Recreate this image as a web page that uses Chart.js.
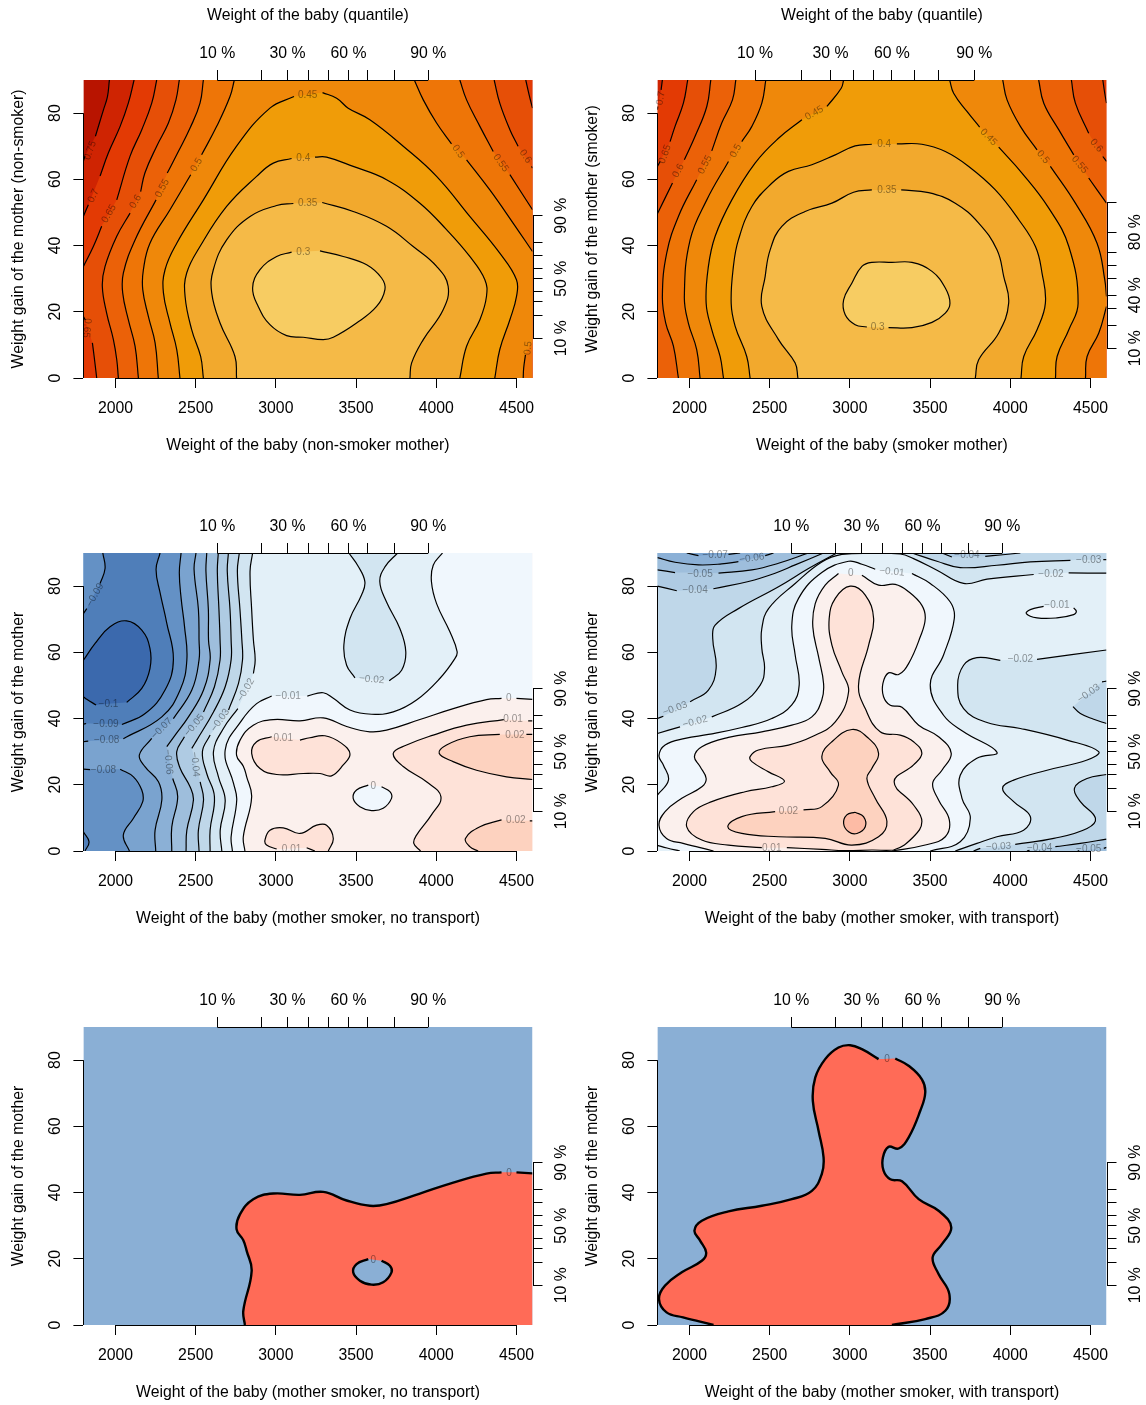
<!DOCTYPE html>
<html>
<head>
<meta charset="utf-8">
<title>Weight of the baby / weight gain of the mother</title>
<script src="https://cdn.jsdelivr.net/npm/chart.js@4.4.3/dist/chart.umd.min.js"></script>
<style>
  html, body { margin: 0; background: #fff; }
  #wrap { position: relative; width: 1146px; height: 1405px; overflow: hidden; }
  #wrap canvas { position: absolute; }
</style>
</head>
<body>
<div id="wrap"></div>
<script>
/* ── axes ── */
const xTicks = [2000, 2500, 3000, 3500, 4000, 4500];
const yTicks = [0, 20, 40, 60, 80];
const xQuantNon = [2635, 2909, 3073, 3204, 3329, 3453, 3574, 3738, 3950];
const xQuantSmk = [2409, 2699, 2879, 3021, 3148, 3262, 3404, 3555, 3776];
const yQuantNon = [12, 19, 23, 26, 30, 33, 37, 41, 49];
const yQuantSmk = [9, 16, 21, 25, 30, 34, 38, 44, 53];
const xQuantLabels = ['10 %', '', '30 %', '', '', '60 %', '', '', '90 %'];
const yLabelsNon = ['10 %', '', '', '', '50 %', '', '', '', '90 %'];
const yLabelsSmk = ['10 %', '', '', '40 %', '', '', '', '80 %', ''];

/* ── band colours, low to high ── */
const orange = ['#F7CC62', '#F5BA47', '#F2A92D', '#F09C08', '#EF880A', '#EE7507', '#EB6108', '#E64F07', '#E33A04', '#CF2402', '#B81400'];
const blues = { m10: '#3B69AD', m09: '#4F7EB9', m08: '#6491C5', m07: '#7AA3CF', m06: '#8BB0D6', m05: '#9EBEDC', m04: '#AFCBE3', m03: '#BFD7E9', m02: '#D2E5F1', m01: '#E3F0F8', z0: '#F0F7FD', p0: '#FBF0ED', p1: '#FEE2D8', p2: '#FDD2BF', p3: '#FDBBA5' };
const signBlue = '#8AAFD5', signRed = '#FF6B57';

/* ── panel 1: non-smoker, contour pieces (a gap = room for the label) ── */
const a75 = [[[1962,90],[1950,85],[1925,81],[1900,77],[1875,73]], [[1810,67],[1800,65.5]]];
const a70 = [[[2116,90],[2080,83],[2029,76],[1956,68],[1904,61]], [[1831,52.3],[1804,49.3],[1800,48.8]]];
const a65 = [[[2257,90],[2226,83],[2164,75],[2091,67],[2008,53.8]], [[1914,45.8],[1862,39.7],[1800,33.7]]];
const a65b = [[[1800,18.6],[1812,17.5]], [[1856,10.6],[1867,6.5],[1883,0]]];
const a60 = [[[2398,90],[2377,84],[2330,77],[2257,70],[2184,62],[2157,56.3]], [[2091,49.8],[2008,42.8],[1935,33.7],[1918,27.7],[1945,19.6],[1987,11.6],[2008,5.5],[2018,0]]];
const a55 = [[[2548,90],[2527,83],[2465,75.5],[2392,68.4],[2323,61.9]], [[2253,53.8],[2122,41.7],[2049,31.7],[2045,25.7],[2080,17.6],[2122,9.6],[2143,0]]];
const a50 = [[[2741,90],[2714,85],[2631,76],[2537,67.4]], [[2469,61.4],[2340,50.8],[2215,40.7],[2174,32.7],[2170,26.7],[2205,18.6],[2247,10.6],[2267,0]]];
const a45 = [[[2402,0],[2382,8.6],[2340,16.6],[2299,25.7],[2309,32.7],[2382,40.7],[2548,53.8],[2755,70],[2963,81.5],[3113,85]], [[3291,86.2],[3379,84.5],[3451,81.5],[3586,78],[3794,70],[4002,60.9],[4209,48.8],[4396,37.7],[4500,29.7],[4500,24.6],[4459,17.6],[4396,8.6],[4365,0]]];
const a40 = [[[2548,0],[2531,6.5],[2475,14.6],[2434,24.6],[2444,31.7],[2527,39.7],[2693,51.8],[2880,60.9],[2984,64.9],[3098,66.3]], [[3244,66.7],[3316,66.7],[3482,63.9],[3690,59.9],[3898,52.8],[4064,44.8],[4209,36.7],[4303,29.7],[4313,24.6],[4272,17.6],[4189,9.6],[4147,0]]];
const a35 = [[[2755,0],[2745,6.5],[2652,16.6],[2600,25.7],[2610,32.7],[2693,41.7],[2839,48.8],[3005,52.1],[3109,52.7]], [[3289,53],[3482,50.3],[3690,45.8],[3856,39.7],[4002,33.7],[4074,27.7],[4043,20.6],[3919,11.6],[3846,4.5],[3836,0]]];
const a30 = [[[3275,38.4],[3420,36.7],[3566,34.2],[3659,30.2],[3680,26.7],[3628,21.6],[3503,16.6],[3358,12.3],[3295,11.6],[3171,12.3],[3067,12.8],[2963,16.1],[2890,21.6],[2855,27.2],[2901,32.7],[3005,36.7],[3098,38]]];
const b50 = [[[3863,90],[3919,84],[4002,77],[4095,70.7]], [[4189,65.9],[4334,56.8],[4479,46.8],[4600,38.2]]];
const b50low = [[[4542,0],[4545,3],[4556,7]], [[4600,11]]];
const b55 = [[[4147,90],[4189,84],[4272,76],[4355,68.4]], [[4459,61.4],[4600,50.8]]];
const b60 = [[[4361,90],[4396,83],[4459,75],[4510,70]], [[4594,63.9],[4600,63.4]]];
const b65 = [[[4558,90],[4579,85.5],[4600,81.5]]];
const labelsA = [[1842,68.7,'0.75',-70],[1862,55,'0.7',-65],[1960,49.6,'0.65',-60],[2126,53.3,'0.6',-60],[2292,57.3,'0.55',-62],[2506,64.4,'0.5',-60],[3198,85.5,'0.45',0],[3171,66.4,'0.4',0],[3198,52.7,'0.35',0],[3171,38,'0.3',0],[4137,68.4,'0.5',55],[4403,64.9,'0.55',55],[4556,66.9,'0.6',55],[1821,15.1,'0.65',95],[4573,9,'0.5',-85]];

/* ── panel 2: smoker ── */
const c70 = [[[1831,90],[1823,87]], [[1802,82],[1800,81]]];
const c65 = [[[1989,90],[1962,83],[1910,76],[1879,71.4]], [[1817,65.4],[1800,63.9]]];
const c60 = [[[2133,90],[2108,82],[2035,73],[1968,65.9]], [[1894,58.9],[1800,49.6]]];
const c55 = [[[2289,90],[2268,84],[2201,77],[2139,68.6]], [[2045,59.9],[1931,48.8],[1858,37.7],[1831,24.6],[1852,16.6],[1900,9.6],[1931,0]]];
const c50 = [[[2476,90],[2451,83],[2389,76],[2326,71.4]], [[2243,65.4],[2108,53.8],[2004,41.7],[1968,24.6],[1993,16.6],[2045,8.6],[2066,0]]];
const c45 = [[[2961,90],[2946,87.5],[2857,82]], [[2701,78],[2555,72.4],[2409,64.9],[2264,53.8],[2160,42.8],[2118,33.7],[2104,22.6],[2139,14.6],[2191,6.5],[2212,0]]];
const c40 = [[[2378,0],[2357,6.5],[2285,15.6],[2260,22.6],[2274,33.7],[2305,41.7],[2389,51.8],[2513,58.8],[2617,62.4],[2763,64.4],[2909,67.4],[3033,70.1],[3137,70.6]], [[3293,70.7],[3449,70.6],[3595,68.4],[3741,63.9],[3907,56.8],[4053,47.8],[4157,39.7],[4198,31.7],[4219,22.6],[4167,14.6],[4084,6.5],[4067,0]]];
const c35 = [[[2676,0],[2659,4.5],[2555,11.6],[2451,21.6],[2472,30.7],[2503,38.7],[2576,45.8],[2721,50.3],[2888,52.8],[3023,56.1],[3137,56.8]], [[3320,56.8],[3491,56],[3657,52.8],[3803,46.8],[3917,38.7],[3959,30.7],[3990,22.6],[3928,13.6],[3803,5.5],[3782,0]]];
const c30 = [[[3241,15.2],[3387,15.2],[3512,16.8],[3595,19.6],[3624,22.6],[3595,27.2],[3512,32.2],[3387,34.9],[3262,34.9],[3137,34.9],[3075,33.7],[3013,28.7],[2961,23.6],[2971,19.1],[3033,16.1],[3106,15.4]]];
const d45 = [[[3622,90],[3647,86],[3730,80.5],[3809,75.8]], [[3928,69.7],[4073,61.9],[4240,51.3],[4365,39.7],[4423,22.6],[4365,14.6],[4292,6.5],[4282,0]]];
const d50 = [[[3953,90],[3980,84],[4063,76],[4167,68.9]], [[4250,63.9],[4406,52.8],[4541,40.7],[4589,29.7],[4600,24.6]]];
const d50low = [[[4469,0],[4479,6.5],[4552,13.6],[4600,21.6]]];
const d55 = [[[4177,90],[4209,83],[4302,75],[4396,67.4]], [[4489,60.4],[4600,52.8]]];
const d60 = [[[4381,90],[4406,83],[4489,73.9]], [[4577,66.9],[4600,65.4]]];
const d65 = [[[4577,90],[4589,86],[4600,83]]];
const labelsB = [[1821,84.5,'0.7',-80],[1848,67.6,'0.65',-70],[1931,62.6,'0.6',-62],[2097,64.4,'0.55',-62],[2289,68.6,'0.5',-62],[2778,80,'0.45',-30],[3214,70.6,'0.4',0],[3231,56.8,'0.35',0],[3173,15.2,'0.3',0],[3865,72.7,'0.45',45],[4204,66.7,'0.5',50],[4433,64.4,'0.55',50],[4537,70.2,'0.6',50]];

/* ── panel 3 and 5: mother smoker, no transport ── */
const zeroNo = [[[2807,0],[2797,4.3],[2849,16.3],[2818,22.4],[2797,25.6],[2755,28.9],[2776,33.4],[2859,38],[2984,39.7],[3150,39.3],[3295,40.2],[3441,37.6],[3586,36],[3690,36.5],[3898,39.7],[4106,43],[4313,45.7],[4407,46.1]], [[4500,46.1],[4600,45.8]]];
const zeroHole = [[[3659,19.4],[3711,17.9],[3721,15.9],[3669,12.9],[3597,12.2],[3524,13.4],[3482,15.9],[3503,18.4],[3576,19.9]]];
const e10 = [[[1800,57.6],[1873,62.7],[1966,67.7],[2070,69.5],[2164,66.7],[2215,61.2],[2215,55.1],[2164,49.1],[2070,44.9]], [[1879,44.1],[1821,45.8],[1800,46.6]]];
const e09up = [[[1921,90],[1935,85.3],[1904,80.8]], [[1821,73.2],[1800,71.7]]];
const e09 = [[[2278,90],[2253,85],[2278,78],[2319,69],[2361,57.7],[2309,48.6],[2185,41.5],[2040,38.2]], [[1817,38.5],[1800,38.3]]];
const e09arc = [[[1800,5.8],[1835,2.8],[1810,0]]];
const e08 = [[[2409,90],[2398,84],[2410,76],[2430,68],[2445,57.7],[2403,48.6],[2289,40.5],[2049,33.9]], [[1830,33.2],[1800,33]]];
const e08low = [[[1800,24.7],[1842,24.6]], [[2029,24.7],[2112,22.4],[2164,18.4],[2170,14.9],[2112,9.9],[2049,4.8],[2087,0]]];
const e07 = [[[2502,90],[2490,85],[2517,73],[2521,63.7],[2521,57.7],[2476,48.6],[2361,40]], [[2226,34],[2149,29],[2185,25.4],[2268,20.9],[2289,15.4],[2247,6.3],[2251,0]]];
const e06 = [[[2569,90],[2564,84.5],[2579,73],[2580,63.7],[2590,57.7],[2549,48.6],[2455,40.5],[2372,35],[2320,31.5]], [[2357,21.9],[2388,16.4],[2351,7.3],[2351,0]]];
const e05 = [[[2641,90],[2635,84.5],[2645,73],[2652,63.7],[2652,57.7],[2617,49.6],[2549,42]], [[2430,34.5],[2382,30],[2403,25],[2465,19.4],[2486,15.4],[2445,6.3],[2440,0]]];
const e04 = [[[2704,90],[2697,84.5],[2714,73],[2721,63.7],[2721,57.7],[2684,49.6],[2611,42],[2507,33.5],[2476,31]], [[2528,20.9],[2549,15.4],[2517,6.3],[2521,0]]];
const e03 = [[[2772,90],[2760,84.5],[2776,73],[2788,63.7],[2792,57.7],[2767,50.6],[2705,42.6]], [[2590,35],[2542,30],[2569,23.4],[2617,16.4],[2590,6.3],[2590,0]]];
const e02 = [[[2855,90],[2839,84.5],[2849,73],[2860,63.7],[2871,57.7],[2860,53.6]], [[2763,43],[2673,37],[2611,30],[2642,22.4],[2684,15.4],[2653,6.3],[2663,0]]];
const eDrop = [[[3455,90],[3513,86],[3555,81.3],[3534,77.3],[3462,70.2],[3424,62.2],[3441,56.1],[3493,52.3]], [[3707,51.4],[3784,54.6],[3810,60.2],[3773,67.2],[3690,75.2],[3648,81.3],[3680,85.8],[3759,90]]];
const e01 = [[[2729,0],[2721,4.3],[2756,15.4],[2736,20.4],[2684,30.5],[2788,39.5],[2880,44.5],[2974,46.8]], [[3196,46.8],[3295,47.8],[3358,46.1],[3462,42.6],[3597,41.3],[3732,42],[3877,45.6],[4022,52.1],[4116,58.1],[4130,60.2],[4085,66.2],[4002,74.7],[3970,81.3],[3981,86.3],[4039,90]]];
const f01r = [[[4600,39.3],[4573,39.3]], [[4421,39.7],[4189,38],[3981,35],[3815,32],[3732,29.5],[3794,25.5],[3939,20.9],[4029,16.4],[3970,10.9],[3877,4.8],[3860,2.3],[3902,0]]];
const f01l = [[[3150,33.5],[3212,34.2],[3306,34.8],[3410,32.5],[3462,29.3],[3420,26],[3347,22.7],[3275,23.4],[3171,23.4],[3005,23.1],[2901,24.9],[2849,29.5],[2880,33],[2974,34.5]]];
const f01b = [[[3327,0],[3358,3.8],[3316,7.8],[3254,7.8],[3150,5.3],[3046,7],[2963,6.3],[2932,3.3],[2942,1.8],[3005,0.6]], [[3192,1],[3243,0]]];
const f02r = [[[4600,35.2],[4562,35.2]], [[4396,35.2],[4209,34.5],[4064,32],[4018,29.5],[4105,27],[4251,24.4],[4438,22.4],[4600,21.6]]];
const f02b = [[[4600,9.1],[4583,9.1]], [[4407,9.4],[4272,7.3],[4182,3.8],[4209,1.3],[4261,0]]];
const labelsC = [[1873,77.3,'−0.09',-60],[1956,44.4,'−0.1',0],[1941,38.2,'−0.09',0],[1945,33.4,'−0.08',0],[1925,24.4,'−0.08',0],[2289,37,'−0.07',-45],[2330,26.9,'−0.06',85],[2492,38,'−0.05',-50],[2497,26.2,'−0.04',85],[2653,39.5,'−0.03',-55],[2813,48.6,'−0.02',-60],[3077,46.8,'−0.01',0],[3046,34,'0.01',0],[3098,0.5,'0.01',0],[3597,51.8,'−0.02',5],[4452,46.1,'0',0],[4479,39.7,'0.01',0],[4490,35.1,'0.02',0],[4496,9.2,'0.02',0],[3607,19.7,'0',0]];
const labelsE = [[4454,45.9,'0',0],[3607,19.6,'0',0]];

/* ── panel 4 and 6: mother smoker, with transport ── */
const zeroA = [[2150,0],[2060,1.1],[1960,2.3],[1857,3.8],[1810,7.8],[1848,11.9],[1952,15.9],[2077,19.4],[2104,21.9],[2066,25.5],[2031,28.5],[2077,31.5],[2243,34.3],[2451,36],[2638,38],[2763,40.5],[2825,45.6],[2836,50.6],[2805,58.6],[2769,67.7],[2784,74.7],[2846,80.3],[2929,83.8]];
const zeroPeak = [[3002,84.5]];
const zeroB = [[3075,83.3],[3179,80.3]];
const zeroC = [[3283,80.5],[3366,78.3],[3449,74.2],[3470,70.2],[3439,64.7],[3366,56.6],[3304,53.3],[3241,53.8],[3206,50.6],[3210,46.6],[3252,44],[3325,43.4],[3429,38],[3553,34.5],[3632,29.5],[3574,24.4],[3516,20.4],[3553,15.4],[3620,9.4],[3595,4.3],[3470,1.8],[3262,0]];
const g07 = [[[1983,90],[2056,89.2]], [[2243,89.6],[2316,90]]];
const g06 = [[[1800,88.6],[1910,87.2],[2056,86.4],[2201,86.7],[2305,87.4]], [[2472,89.2],[2524,90]]];
const g05 = [[[1800,84.9],[1910,84.1]], [[2181,83.9],[2389,84.9],[2555,86.9],[2742,90]]];
const g04 = [[[1800,80],[1921,78.6]], [[2149,79.2],[2368,81.4],[2534,83.9],[2659,86.4],[2836,90]]];
const g03 = [[[2919,90],[2742,85.3],[2555,79.8],[2305,73.2],[2160,68.2],[2145,64.2],[2166,55.1],[2118,48.6],[2004,45.1]], [[1837,40.7],[1800,40]]];
const g02 = [[[1800,35.5],[1941,37.5]], [[2139,40.5],[2326,44.6],[2441,50.1],[2468,55.1],[2451,61.2],[2451,67.2],[2493,73.2],[2659,80.8],[2825,87.3],[2950,89.6],[3137,89.9],[3314,89.7],[3397,88.3],[3543,84.8],[3709,80.8],[3855,82.1],[4146,83.5]], [[4364,84],[4600,83.9]]];
const g02low = [[[4600,60.7],[4167,57.9]], [[3938,57.6],[3792,58.4],[3709,56.1],[3672,50.1],[3709,43],[3855,38.8],[4063,37],[4354,33.5],[4551,30],[4479,27.5],[4229,24.4],[4021,21.4],[3952,18.9],[4021,14.9],[4125,10.4],[4083,6.3],[3917,4.3],[3792,2.3],[3657,0]]];
const g03top = [[[3387,90],[3543,87.5],[3688,85.6],[3917,86.3],[4125,87.3],[4375,87.8]], [[4580,88],[4600,88]]];
const g03side = [[[4600,51.3],[4572,51.1]], [[4391,43.6],[4437,41.5],[4520,39.8],[4600,38.5]]];
const g03low = [[[4600,23.1],[4479,21.9],[4400,18.9],[4437,14.9],[4531,9.9],[4479,6.8],[4271,3.8],[4031,2]], [[3813,0.8],[3771,0]]];
const g04top = [[[3574,90],[3636,88.8]], [[3844,89],[3938,89.4],[4063,90]]];
const g04low = [[[4104,0],[4120,0.2]], [[4281,1.3],[4437,2.3],[4600,3.6]]];
const g05low = [[[4420,0],[4430,0.1]], [[4583,0.8],[4600,1.1]]];
const g01 = [[[1800,16.9],[1869,21.4],[1837,26],[1810,28.8],[1848,32],[1973,34],[2118,35.2],[2326,37.3],[2513,40],[2638,44.1],[2684,50.1],[2659,59.2],[2638,68.2],[2680,76.3],[2825,84.1],[2992,87.5],[3075,86.6],[3158,85.1]], [[3387,83.8],[3501,80.8],[3626,75.2],[3651,70.2],[3584,59.2],[3501,50.1],[3584,41],[3709,36],[3917,29.8],[3792,28],[3688,22.9],[3699,15.9],[3751,9.9],[3688,2.8],[3501,0]]];
const g01corner = [[[1800,1.7],[1860,0.9],[1940,0]]];
const g01loop = [[[4208,73.9],[4125,72.9],[4100,71.7],[4167,70.4],[4291,70.4],[4395,71.4],[4412,72.4],[4395,73.4]]];
const h01 = [[[2607,1],[2825,0.5],[2971,0.1],[3137,0.3],[3272,0.3],[3397,4.3],[3449,8.9],[3397,13.9],[3276,20.9],[3397,26],[3449,29.5],[3397,33],[3314,35],[3189,36],[3096,43],[3054,50.1],[3117,62.2],[3148,70.2],[3096,77.3],[3002,80],[2909,76.3],[2871,70.2],[2888,62.2],[2950,54.1],[2992,48.1],[2909,39],[2763,34.5],[2617,32],[2430,30.5],[2378,28.5],[2389,27],[2493,23.9],[2592,21.1],[2513,19.4],[2347,17.9],[2139,14.9],[2025,11.9],[1983,7.3],[2077,3.3],[2243,1.8],[2451,1]]];
const h02 = [[[2711,12.4],[2825,13.4],[2929,19.9],[2877,23.9],[2825,28.5],[2888,33],[3013,36.7],[3117,34],[3179,29.5],[3137,24.9],[3106,21.9],[3158,15.9],[3231,8.9],[3179,4.3],[3013,1.8],[2846,3.8],[2555,4.3],[2326,5.3],[2239,7.3],[2326,10.4],[2534,11.9]]];
const h03 = [[[3033,11.7],[3085,10.4],[3096,7.3],[3044,5.3],[2992,5.8],[2961,8.3],[2981,10.9],[3033,11.7]]];
const labelsD = [[2160,89.4,'−0.07',0],[2389,88.4,'−0.06',-8],[2066,83.7,'−0.05',0],[2035,78.9,'−0.04',0],[1910,43,'−0.03',-20],[2035,39,'−0.02',-15],[3006,84,'0',0],[2617,12.1,'0.02',0],[2513,0.8,'0.01',0],[3262,84.3,'−0.01',5],[4489,87.8,'−0.03',0],[4254,83.6,'−0.02',0],[4291,74.2,'−0.01',0],[4063,57.8,'−0.02',0],[4489,47.6,'−0.03',-35],[3730,89.3,'−0.04',0],[3927,1.3,'−0.03',-3],[4183,0.8,'−0.04',0],[4489,0.5,'−0.05',0]];
const labelsF = [[3231,80.3,'0',0]];

/* ── helpers ── */
const at = (x, y) => [[[x, y]]];
const rev = c => c.map(p => [...p].reverse()).reverse();
const plotRect = () => [at(1800, 0), at(4600, 0), at(4600, 90), at(1800, 90)];

// doubled end points keep the spline of a fill identical to the spline of its line
function region(...contours) {
  const out = [];
  contours.flat(1).forEach(p => out.push(p[0], ...p, p[p.length - 1]));
  return out.map(([x, y]) => ({ x, y }));
}

const zeroMid = [zeroA, [...zeroB, ...zeroC]];
const zeroBottom = [[...zeroA, ...zeroPeak, ...zeroB], zeroC];

/* ── what each panel paints, back to front ── */
const fillsA = [
  [orange[10], region(...plotRect())],
  [orange[9], region(a75, at(1800, 0), at(4600, 0), at(4600, 90))],
  [orange[8], region(a70, at(1800, 0), at(4600, 0), at(4600, 90))],
  [orange[7], region(a65, a65b, at(4600, 0), rev(b65))],
  [orange[6], region(a60, at(4600, 0), rev(b60))],
  [orange[5], region(a55, at(4600, 0), rev(b55))],
  [orange[4], region(a50, b50low, rev(b50))],
  [orange[3], region(a45)],
  [orange[2], region(a40)],
  [orange[1], region(a35)],
  [orange[0], region(a30)],
];
const linesA = [a75, a70, a65, a65b, a60, a55, a50, a45, a40, a35, a30, b50, b50low, b55, b60, b65];

const fillsB = [
  [orange[9], region(...plotRect())],
  [orange[8], region(c70, at(1800, 0), at(4600, 0), at(4600, 90))],
  [orange[7], region(c65, at(1800, 0), at(4600, 0), rev(d65))],
  [orange[6], region(c60, at(1800, 0), at(4600, 0), rev(d60))],
  [orange[5], region(c55, at(4600, 0), rev(d55))],
  [orange[4], region(c50, d50low, rev(d50))],
  [orange[3], region(c45, rev(d45))],
  [orange[2], region(c40)],
  [orange[1], region(c35)],
  [orange[0], region(c30)],
];
const linesB = [c70, c65, c60, c55, c50, c45, c40, c35, c30, d45, d50, d50low, d55, d60, d65];

const leftOf = c => region(c, at(1800, 0), at(1800, 90));
const fillsC = [
  [blues.p0, region(...plotRect())],
  [blues.p1, region(f01r, at(4600, 0))],
  [blues.p1, region(f01l)],
  [blues.p1, region(f01b)],
  [blues.p2, region(f02r)],
  [blues.p2, region(f02b, at(4600, 0))],
  [blues.z0, region(zeroNo, at(4600, 90), at(1800, 90), at(1800, 0))],
  [blues.z0, region(zeroHole)],
  [blues.m01, region(e01, at(1800, 90), at(1800, 0))],
  [blues.m02, leftOf(e02)],
  [blues.m02, region(eDrop)],
  [blues.m03, leftOf(e03)],
  [blues.m04, leftOf(e04)],
  [blues.m05, leftOf(e05)],
  [blues.m06, leftOf(e06)],
  [blues.m07, leftOf(e07)],
  [blues.m08, region(e08, at(1800, 90))],
  [blues.m08, region(e08low, at(1800, 0))],
  [blues.m09, region(e09, rev(e09up))],
  [blues.m09, region(e09arc)],
  [blues.m10, region(e10)],
];
const linesC = [e10, e09up, e09, e09arc, e08, e08low, e07, e06, e05, e04, e03, e02, eDrop, e01, zeroNo, zeroHole, f01r, f01l, f01b, f02r, f02b];

const fillsD = [
  [blues.m01, region(...plotRect())],
  [blues.m02, region(g02, at(4600, 90), at(1800, 90))],
  [blues.m02, region(g02low, at(4600, 0))],
  [blues.m03, region(g03, at(1800, 90))],
  [blues.m03, region(g03top, at(4600, 90))],
  [blues.m03, region(g03side)],
  [blues.m03, region(g03low, at(4600, 0))],
  [blues.m04, region(g04, at(1800, 90))],
  [blues.m04, region(g04top)],
  [blues.m04, region(g04low, at(4600, 0))],
  [blues.m05, region(g05, at(1800, 90))],
  [blues.m05, region(g05low, at(4600, 0))],
  [blues.m06, region(g06, at(1800, 90))],
  [blues.m07, region(g07)],
  [blues.z0, region(g01, rev(g01corner))],
  [blues.z0, region(g01loop)],
  [blues.p0, region(zeroMid)],
  [blues.p1, region(h01)],
  [blues.p2, region(h02)],
  [blues.p3, region(h03)],
];
const linesD = [g07, g06, g05, g04, g03, g02, g02low, g03top, g03side, g03low, g04top, g04low, g05low, g01, g01corner, g01loop, zeroMid, h01, h02, h03];

const fillsE = [
  [signBlue, region(...plotRect())],
  [signRed, region(zeroNo, at(4600, 0))],
  [signBlue, region(zeroHole)],
];
const fillsF = [
  [signBlue, region(...plotRect())],
  [signRed, region(zeroBottom)],
];

/* ── partial R-style axis lines, and centred rotated y tick labels ── */
const rAxesPlugin = {
  id: 'rAxes',
  beforeDraw(chart) {
    ['y', 'yRight'].forEach(id => {
      chart.scales[id].getLabelItems(chart.chartArea).forEach(i => { i.options.textAlign = 'center'; });
    });
  },
  afterDraw(chart) {
    const { ctx, chartArea: a } = chart;
    ctx.save();
    ctx.strokeStyle = '#000';
    ctx.lineWidth = 1;
    ctx.beginPath();
    ['x', 'xTop'].forEach(id => {
      const s = chart.scales[id], t = s.ticks;
      const yy = Math.round(id === 'x' ? a.bottom : a.top) + 0.5;
      ctx.moveTo(s.getPixelForValue(t[0].value), yy);
      ctx.lineTo(s.getPixelForValue(t[t.length - 1].value), yy);
    });
    ['y', 'yRight'].forEach(id => {
      const s = chart.scales[id], t = s.ticks;
      const xx = Math.round(id === 'y' ? a.left : a.right) + 0.5;
      ctx.moveTo(xx, s.getPixelForValue(t[0].value));
      ctx.lineTo(xx, s.getPixelForValue(t[t.length - 1].value));
    });
    ctx.stroke();
    ctx.restore();
  },
};

const contourLabelPlugin = {
  id: 'contourLabels',
  afterDatasetsDraw(chart, args, opts) {
    const { ctx, scales: { x, y } } = chart;
    ctx.save();
    ctx.font = "10px 'Liberation Sans'";
    ctx.fillStyle = 'rgba(0,0,0,0.42)';
    ctx.textAlign = 'center';
    ctx.textBaseline = 'middle';
    opts.items.forEach(([vx, vy, text, deg]) => {
      ctx.save();
      ctx.translate(x.getPixelForValue(vx), y.getPixelForValue(vy));
      ctx.rotate(deg * Math.PI / 180);
      ctx.fillText(text, 0, 0);
      ctx.restore();
    });
    ctx.restore();
  },
};

Chart.defaults.font.family = "'Liberation Sans'";
Chart.defaults.font.size = 15.8;
Chart.defaults.color = '#000';

const tickGrid = { drawOnChartArea: false, drawTicks: true, tickLength: 10, tickColor: '#000', tickWidth: 1 };
const useTicks = vals => s => { s.ticks = vals.map(value => ({ value })); };

function drawPanel(left, top, p) {
  const canvas = document.createElement('canvas');
  canvas.width = 572; canvas.height = 470;
  canvas.style.left = left + 'px'; canvas.style.top = top + 'px';
  document.getElementById('wrap').appendChild(canvas);

  const fills = p.fills.map(([color, data]) => ({
    data, showLine: true, fill: 'shape', backgroundColor: color, borderWidth: 0,
    pointRadius: 0, tension: 0.42, clip: 0,
  }));
  const lines = [];
  p.lines.forEach(c => c.forEach(piece => lines.push({
    data: piece.map(([x, y]) => ({ x, y })), showLine: true, fill: false,
    borderColor: '#000', borderWidth: p.lineWidth || 1.2, pointRadius: 0, tension: 0.42, clip: 0,
  })));

  new Chart(canvas, {
    type: 'scatter',
    // Chart.js paints the last dataset first
    data: { datasets: [...fills, ...lines].reverse() },
    plugins: [rAxesPlugin, contourLabelPlugin],
    options: {
      responsive: false, animation: false, events: [],
      layout: { padding: 0 },
      plugins: { legend: { display: false }, tooltip: { enabled: false }, contourLabels: { items: p.labels } },
      scales: {
        x: {
          type: 'linear', position: 'bottom', min: 1800, max: 4600,
          grid: tickGrid, border: { display: false },
          afterBuildTicks: useTicks(xTicks), afterFit: s => { s.height = 92; },
          ticks: { autoSkip: false, maxRotation: 0, padding: 11, callback: v => String(v) },
          title: { display: true, text: p.xTitle, padding: { top: 0, bottom: 15 } },
        },
        xTop: {
          type: 'linear', axis: 'x', position: 'top', min: 1800, max: 4600,
          grid: tickGrid, border: { display: false },
          afterBuildTicks: useTicks(p.xQuant), afterFit: s => { s.height = 80; },
          ticks: { autoSkip: false, maxRotation: 0, padding: 7, callback: (v, i) => xQuantLabels[i] },
          title: { display: !!p.topTitle, text: p.topTitle || '', padding: { top: 6, bottom: 0 } },
        },
        y: {
          type: 'linear', position: 'left', min: 0, max: 90,
          grid: tickGrid, border: { display: false },
          afterBuildTicks: useTicks(yTicks), afterFit: s => { s.width = 83.4; },
          ticks: { autoSkip: false, minRotation: 90, maxRotation: 90, padding: 18, callback: v => String(v) },
          title: { display: true, text: p.yTitle, padding: { top: 9, bottom: 0 } },
        },
        yRight: {
          type: 'linear', axis: 'y', position: 'right', min: 0, max: 90,
          grid: tickGrid, border: { display: false },
          afterBuildTicks: useTicks(p.yQuant), afterFit: s => { s.width = 39.5; },
          ticks: { autoSkip: false, minRotation: 90, maxRotation: 90, padding: 19, callback: (v, i) => p.yLabels[i] },
        },
      },
    },
  });
}

const colLeft = [0, 574];
const rowTop = [0, 473, 947];
const withNon = { xQuant: xQuantNon, yQuant: yQuantNon, yLabels: yLabelsNon };

drawPanel(colLeft[0], rowTop[0], { ...withNon, fills: fillsA, lines: linesA, labels: labelsA,
  topTitle: 'Weight of the baby (quantile)', xTitle: 'Weight of the baby (non-smoker mother)', yTitle: 'Weight gain of the mother (non-smoker)' });
drawPanel(colLeft[1], rowTop[0], { xQuant: xQuantSmk, yQuant: yQuantSmk, yLabels: yLabelsSmk, fills: fillsB, lines: linesB, labels: labelsB,
  topTitle: 'Weight of the baby (quantile)', xTitle: 'Weight of the baby (smoker mother)', yTitle: 'Weight gain of the mother (smoker)' });
drawPanel(colLeft[0], rowTop[1], { ...withNon, fills: fillsC, lines: linesC, labels: labelsC,
  xTitle: 'Weight of the baby (mother smoker, no transport)', yTitle: 'Weight gain of the mother' });
drawPanel(colLeft[1], rowTop[1], { ...withNon, fills: fillsD, lines: linesD, labels: labelsD,
  xTitle: 'Weight of the baby (mother smoker, with transport)', yTitle: 'Weight gain of the mother' });
drawPanel(colLeft[0], rowTop[2], { ...withNon, fills: fillsE, lines: [zeroNo, zeroHole], labels: labelsE, lineWidth: 2.4,
  xTitle: 'Weight of the baby (mother smoker, no transport)', yTitle: 'Weight gain of the mother' });
drawPanel(colLeft[1], rowTop[2], { ...withNon, fills: fillsF, lines: [zeroBottom], labels: labelsF, lineWidth: 2.4,
  xTitle: 'Weight of the baby (mother smoker, with transport)', yTitle: 'Weight gain of the mother' });
</script>
</body>
</html>
